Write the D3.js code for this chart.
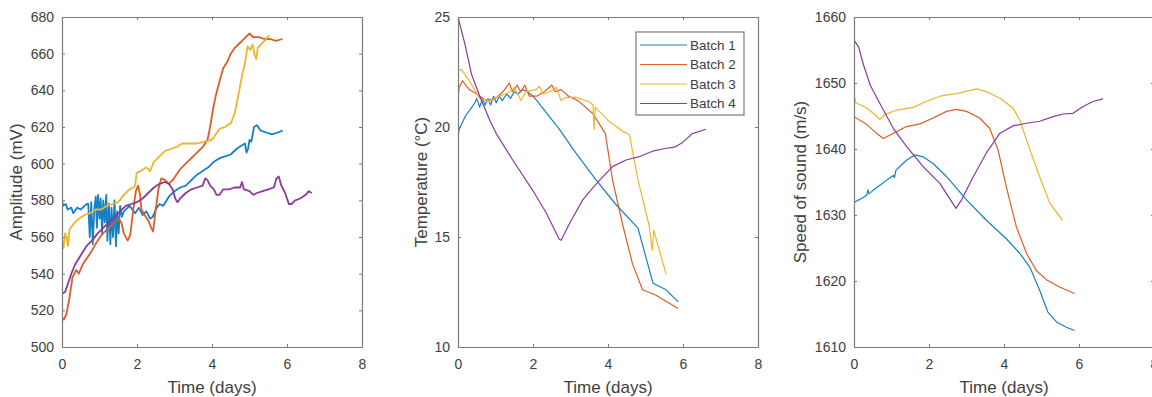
<!DOCTYPE html>
<html>
<head>
<meta charset="utf-8">
<script src="https://cdn.jsdelivr.net/npm/d3@7"></script>
<style>
  body { margin: 0; background: #fff; }
  svg { display: block; }
</style>
</head>
<body>
<div id="chart"></div>
<script>
// series names and colours (MATLAB default order)
const batches = ["Batch 1", "Batch 2", "Batch 3", "Batch 4"];
const colors = ["#1580c6", "#dc5d25", "#eeb52a", "#8a3b9b"];

const xTicks = [0, 2, 4, 6, 8];

// Amplitude (mV) vs time (days)
const ampTicks = [500, 520, 540, 560, 580, 600, 620, 640, 660, 680];
const ampB1 = [[0,580],[0.03,577],[0.1,578],[0.15,575],[0.25,576],[0.3,573],[0.4,576],[0.5,575],[0.6,577],[0.66,578],
  [0.70,578],[0.74,560],[0.78,579],[0.82,556],[0.86,575],[0.90,582],[0.93,565],[0.96,583],[1.00,570],[1.03,581],
  [1.07,562],[1.10,580],[1.14,568],[1.18,583],[1.21,558],[1.25,578],[1.29,556],[1.32,576],[1.36,560],[1.40,580],
  [1.44,555],[1.47,574],[1.51,562],[1.55,577],[1.60,571],[1.65,574],[1.8,577],[1.95,573],[2.05,576],[2.15,572],
  [2.25,574],[2.35,570],[2.42,571],[2.5,575],[2.6,578],[2.7,577],[2.85,582],[3.0,585],[3.15,587],[3.3,588],
  [3.45,591],[3.6,594],[3.75,596],[3.9,598],[4.05,601],[4.2,603],[4.35,604],[4.5,605],[4.65,608],[4.8,610],
  [4.88,611],[4.92,606],[4.96,608],[5.0,613],[5.05,612],[5.12,620],[5.2,621],[5.3,618],[5.45,617],[5.6,616],
  [5.75,617],[5.88,618]];
const ampB2 = [[0,516],[0.05,515],[0.12,518],[0.2,527],[0.28,538],[0.38,542],[0.45,540],[0.55,545],[0.65,548],
  [0.78,552],[0.92,557],[1.05,561],[1.2,564],[1.35,567],[1.5,570],[1.58,568],[1.65,562],[1.75,558],[1.82,561],
  [1.9,575],[1.97,585],[2.03,588],[2.08,583],[2.12,575],[2.2,572],[2.3,569],[2.38,565],[2.43,563],[2.5,575],
  [2.57,586],[2.65,592],[2.75,591],[2.85,589],[2.95,591],[3.05,594],[3.15,597],[3.3,600],[3.45,603],[3.6,606],
  [3.75,609],[3.88,613],[3.95,620],[4.03,630],[4.1,637],[4.2,645],[4.3,652],[4.42,656],[4.5,660],[4.6,663],
  [4.7,665],[4.8,667],[4.9,669],[5.0,671],[5.1,669],[5.25,669],[5.4,668],[5.55,668],[5.7,667],[5.88,668]];
const ampB3 = [[0,558],[0.04,554],[0.08,562],[0.12,560],[0.16,555],[0.2,564],[0.3,567],[0.45,570],[0.6,572],
  [0.75,573],[0.9,575],[1.05,575],[1.2,577],[1.35,578],[1.5,579],[1.65,583],[1.8,586],[1.9,587],[1.95,588],
  [1.99,595],[2.1,596],[2.25,598],[2.35,596],[2.45,601],[2.6,604],[2.75,607],[2.9,608],[3.05,609],[3.2,611],
  [3.4,611],[3.6,611],[3.8,612],[4.0,613],[4.1,616],[4.2,619],[4.35,620],[4.5,622],[4.6,627],[4.7,637],
  [4.8,648],[4.88,655],[4.95,664],[5.02,662],[5.08,665],[5.14,659],[5.18,657],[5.22,663],[5.3,665],[5.4,667],
  [5.52,670]];
const ampB4 = [[0,529],[0.08,530],[0.15,534],[0.25,540],[0.35,545],[0.5,550],[0.65,555],[0.8,558],[0.95,562],
  [1.1,565],[1.25,568],[1.4,571],[1.55,574],[1.7,577],[1.85,578],[2.0,579],[2.15,581],[2.3,584],[2.45,587],
  [2.6,589],[2.75,590],[2.85,589],[2.95,586],[3.02,581],[3.08,579],[3.15,581],[3.3,584],[3.45,586],[3.6,587],
  [3.75,588],[3.82,592],[3.88,591],[3.95,588],[4.05,586],[4.12,583],[4.2,583],[4.3,586],[4.45,586],[4.6,587],
  [4.75,587],[4.8,590],[4.85,586],[5.0,585],[5.1,583],[5.2,584],[5.35,585],[5.5,586],[5.65,587],[5.72,592],
  [5.78,593],[5.85,588],[5.95,584],[6.05,578],[6.12,578],[6.22,580],[6.35,581],[6.5,583],[6.58,585],[6.66,584]];

// Temperature (°C) vs time (days)
const tempTicks = [10, 15, 20, 25];
const tempB1 = [[0,19.5],[0.03,19.9],[0.2,20.5],[0.45,21.1],[0.5,21.3],[0.58,20.9],[0.65,21.3],[0.72,21.0],
  [0.8,21.3],[0.87,21.0],[0.95,21.4],[1.02,21.1],[1.1,21.4],[1.18,21.2],[1.3,21.5],[1.4,21.3],[1.5,21.6],
  [1.6,21.5],[1.72,21.7],[1.85,21.6],[2.0,21.4],[2.15,21.1],[2.7,19.9],[3.15,18.8],[3.68,17.6],[4.2,16.5],
  [4.8,15.4],[5.2,12.9],[5.55,12.6],[5.87,12.05]];
const tempB2 = [[0,21.3],[0.03,21.8],[0.12,22.1],[0.3,21.7],[0.5,21.5],[0.75,21.2],[1.0,21.3],[1.2,21.6],
  [1.37,22.0],[1.45,21.6],[1.58,21.9],[1.67,21.6],[1.78,21.9],[1.9,21.4],[2.1,21.4],[2.3,21.6],[2.5,21.9],
  [2.6,21.6],[2.75,21.7],[2.95,21.4],[3.2,21.2],[3.6,20.6],[3.93,19.7],[4.12,17.6],[4.4,15.5],[4.65,13.8],
  [4.92,12.6],[5.28,12.35],[5.87,11.75]];
const tempB3 = [[0,22.6],[0.1,22.6],[0.3,22.1],[0.58,21.3],[0.85,21.2],[1.1,21.4],[1.38,21.6],[1.5,21.8],
  [1.68,21.2],[1.8,21.6],[2.08,21.7],[2.17,21.85],[2.27,21.5],[2.45,21.6],[2.62,21.8],[2.75,21.2],[2.88,21.35],
  [3.15,21.35],[3.5,21.15],[3.6,21.0],[3.63,19.9],[3.66,20.9],[4.0,20.3],[4.4,19.8],[4.57,19.65],[4.8,17.6],
  [5.1,15.5],[5.18,14.4],[5.22,15.3],[5.55,13.3]];
const tempB4 = [[0,25],[0.18,23.8],[0.36,22.4],[0.58,21.4],[0.85,20.3],[1.02,19.7],[1.46,18.5],[2.0,17.1],
  [2.35,16.1],[2.7,14.9],[2.75,14.85],[2.97,15.6],[3.33,16.7],[3.68,17.4],[4.12,18.2],[4.48,18.5],[4.83,18.65],
  [5.19,18.9],[5.45,19.0],[5.8,19.1],[5.99,19.3],[6.25,19.7],[6.61,19.9]];

// Speed of sound (m/s) vs time (days)
const sosTicks = [1610, 1620, 1630, 1640, 1650, 1660];
const sosB1 = [[0,1631.9],[0.2,1632.5],[0.34,1633],[0.37,1633.8],[0.4,1633.2],[0.5,1633.7],[0.69,1634.5],
  [0.9,1635.4],[1.05,1636],[1.08,1635.7],[1.12,1636.8],[1.25,1637.5],[1.4,1638.3],[1.62,1639.1],[1.85,1638.8],
  [2.11,1637.8],[2.47,1635.8],[3.0,1632.3],[3.53,1629.2],[4.06,1626.4],[4.42,1624.2],[4.69,1622.1],[4.95,1618.6],
  [5.17,1615.3],[5.4,1613.8],[5.66,1613],[5.88,1612.5]];
const sosB2 = [[0,1644.9],[0.34,1643.7],[0.6,1642.4],[0.78,1641.6],[1.05,1642.4],[1.4,1643.4],[1.76,1643.8],
  [2.11,1644.7],[2.47,1645.7],[2.73,1646],[3.0,1645.7],[3.35,1644.7],[3.62,1643.1],[3.84,1639.9],[4.06,1634.3],
  [4.33,1628.2],[4.6,1624.2],[4.86,1621.6],[5.13,1620.2],[5.48,1619.1],[5.88,1618.1]];
const sosB3 = [[0,1648.2],[0.05,1647],[0.34,1646.2],[0.56,1645.2],[0.69,1644.5],[0.83,1645.2],[1.14,1645.9],
  [1.58,1646.3],[1.93,1647.2],[2.29,1648],[2.73,1648.4],[3.27,1649.1],[3.53,1648.7],[3.89,1647.7],[4.24,1646.2],
  [4.42,1644.4],[4.69,1639.9],[4.95,1635.8],[5.22,1631.8],[5.56,1629.2]];
const sosB4 = [[0,1656.5],[0.12,1655.5],[0.25,1652.8],[0.43,1649.7],[0.69,1646.9],[1.05,1643.1],[1.4,1640.4],
  [1.85,1637.3],[2.29,1634.8],[2.72,1631],[2.87,1632.3],[3.18,1635.8],[3.53,1639.4],[3.89,1642.4],[4.24,1643.5],
  [4.6,1643.9],[4.95,1644.2],[5.31,1644.9],[5.57,1645.3],[5.84,1645.4],[6.1,1646.4],[6.37,1647.2],[6.64,1647.6]];

const W = 1152, H = 397;
const axisColor = "#7a7a7a";
const textColor = "#404040";
const font = "'Liberation Sans', Arial, sans-serif";

const panels = [
  { left: 62, ylabel: "Amplitude (mV)", yTicks: ampTicks, series: [ampB1, ampB2, ampB3, ampB4], lw: 1.8, labelOff: 40 },
  { left: 458, ylabel: "Temperature (°C)", yTicks: tempTicks, series: [tempB1, tempB2, tempB3, tempB4], lw: 1.2, labelOff: 31, legend: true },
  { left: 854, ylabel: "Speed of sound (m/s)", yTicks: sosTicks, series: [sosB1, sosB2, sosB3, sosB4], lw: 1.2, labelOff: 48 },
];
const plotTop = 17, plotW = 300, plotH = 330;

const svg = d3.select("#chart").append("svg")
  .attr("width", W).attr("height", H)
  .style("background", "#fff");

panels.forEach((p) => {
  const x = d3.scaleLinear().domain([0, 8]).range([0, plotW]);
  const y = d3.scaleLinear().domain(d3.extent(p.yTicks)).range([plotH, 0]);

  const g = svg.append("g").attr("transform", `translate(${p.left},${plotTop})`);

  const clipId = "clip" + p.left;
  g.append("clipPath").attr("id", clipId)
    .append("rect").attr("width", plotW).attr("height", plotH);

  // lines
  const line = d3.line().x((d) => x(d[0])).y((d) => y(d[1]));
  g.append("g").attr("clip-path", `url(#${clipId})`)
    .selectAll("path")
    .data(p.series)
    .join("path")
    .attr("d", line)
    .attr("fill", "none")
    .attr("stroke", (d, i) => colors[i])
    .attr("stroke-width", p.lw)
    .attr("stroke-linejoin", "round");

  // axes, ticks inward on all four sides (box on)
  const styleAxis = (sel) => {
    sel.select(".domain").attr("stroke", axisColor).attr("stroke-width", 1.2);
    sel.selectAll(".tick line").attr("stroke", axisColor).attr("stroke-width", 1);
    sel.selectAll(".tick text").attr("fill", textColor).attr("font-family", font).attr("font-size", 14);
  };

  g.append("g").attr("transform", `translate(0,${plotH})`)
    .call(d3.axisBottom(x).tickValues(xTicks).tickSizeInner(-3).tickSizeOuter(0).tickPadding(12))
    .call(styleAxis);
  g.append("g")
    .call(d3.axisTop(x).tickValues(xTicks).tickSizeInner(-3).tickSizeOuter(0).tickFormat(""))
    .call(styleAxis);
  g.append("g")
    .call(d3.axisLeft(y).tickValues(p.yTicks).tickFormat(d3.format("d"))
      .tickSizeInner(-3).tickSizeOuter(0).tickPadding(8))
    .call(styleAxis);
  g.append("g").attr("transform", `translate(${plotW},0)`)
    .call(d3.axisRight(y).tickValues(p.yTicks).tickSizeInner(-3).tickSizeOuter(0).tickFormat(""))
    .call(styleAxis);

  // axis labels
  g.append("text")
    .attr("x", plotW / 2).attr("y", plotH + 46)
    .attr("text-anchor", "middle")
    .attr("font-family", font).attr("font-size", 17)
    .attr("fill", textColor)
    .text("Time (days)");
  g.append("text")
    .attr("transform", `translate(${-p.labelOff},${plotH / 2}) rotate(-90)`)
    .attr("text-anchor", "middle")
    .attr("font-family", font).attr("font-size", 17)
    .attr("fill", textColor)
    .text(p.ylabel);

  if (p.legend) {
    const lg = g.append("g").attr("transform", `translate(${636 - p.left},${32 - plotTop})`);
    lg.append("rect")
      .attr("width", 108).attr("height", 83)
      .attr("fill", "#fff").attr("stroke", axisColor).attr("stroke-width", 1.2);
    const row = lg.selectAll("g.row").data(batches).join("g")
      .attr("class", "row")
      .attr("transform", (d, i) => `translate(0,${13 + i * 19.5})`);
    row.append("line")
      .attr("x1", 4).attr("x2", 51)
      .attr("stroke", (d, i) => colors[i]).attr("stroke-width", 1.2);
    row.append("text")
      .attr("x", 54).attr("dy", "0.35em")
      .attr("font-family", font).attr("font-size", 13.5)
      .attr("fill", textColor)
      .text((d) => d);
  }
});
</script>
</body>
</html>
